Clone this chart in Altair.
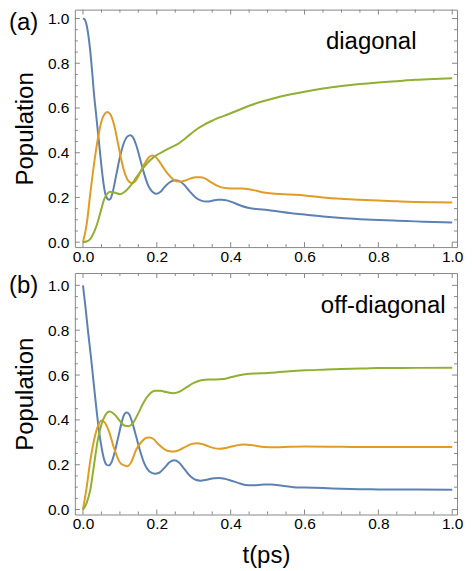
import altair as alt
import pandas as pd

FONT = "Liberation Sans"
GRAY = "#888888"
SERIES = ["blue", "orange", "green"]
COLORS = ["#5E81B5", "#E19C24", "#8FB032"]

MAJOR = [0.0, 0.2, 0.4, 0.6, 0.8, 1.0]
MINOR = [0.05, 0.1, 0.15, 0.25, 0.3, 0.35, 0.45, 0.5, 0.55, 0.65, 0.7, 0.75, 0.85, 0.9, 0.95]

# ---- panel (a): diagonal ----
A_BLUE_T = [0, 0.005, 0.01, 0.015, 0.02, 0.025, 0.03, 0.035, 0.04, 0.045, 0.05, 0.055, 0.06, 0.065, 0.07,
            0.075, 0.08, 0.09, 0.1, 0.11, 0.12, 0.128, 0.135, 0.145, 0.155, 0.165, 0.175, 0.185, 0.195, 0.2,
            0.21, 0.22, 0.235, 0.25, 0.26, 0.275, 0.29, 0.305, 0.32, 0.335, 0.35, 0.365, 0.375, 0.39, 0.41,
            0.43, 0.45, 0.47, 0.5, 0.53, 0.56, 0.6, 0.65, 0.7, 0.75, 0.8, 0.85, 0.9, 0.95, 1.0]
A_BLUE_P = [1.0, 0.995, 0.97, 0.92, 0.85, 0.76, 0.66, 0.58, 0.5, 0.42, 0.34, 0.27, 0.22, 0.197, 0.19,
            0.195, 0.22, 0.3, 0.38, 0.44, 0.472, 0.478, 0.47, 0.43, 0.37, 0.31, 0.26, 0.23, 0.218, 0.217,
            0.225, 0.245, 0.268, 0.277, 0.274, 0.255, 0.225, 0.2, 0.186, 0.182, 0.185, 0.19, 0.19, 0.187, 0.175,
            0.162, 0.153, 0.148, 0.144, 0.137, 0.13, 0.124, 0.115, 0.108, 0.103, 0.099, 0.096, 0.093, 0.09, 0.088]

A_ORANGE_T = [0, 0.01, 0.02, 0.03, 0.04, 0.05, 0.058, 0.066, 0.074, 0.085, 0.095, 0.105, 0.115, 0.125, 0.133,
              0.14, 0.15, 0.16, 0.17, 0.18, 0.188, 0.195, 0.205, 0.215, 0.23, 0.245, 0.26, 0.275, 0.29, 0.305,
              0.318, 0.33, 0.345, 0.36, 0.375, 0.39, 0.41, 0.43, 0.45, 0.47, 0.49, 0.52, 0.56, 0.6, 0.65,
              0.7, 0.75, 0.8, 0.85, 0.9, 0.95, 1.0]
A_ORANGE_P = [0, 0.08, 0.22, 0.35, 0.46, 0.54, 0.572, 0.582, 0.572, 0.52, 0.44, 0.36, 0.3, 0.27, 0.264,
              0.27, 0.295, 0.33, 0.36, 0.382, 0.388, 0.383, 0.365, 0.34, 0.305, 0.28, 0.271, 0.275, 0.284, 0.29,
              0.29, 0.285, 0.27, 0.255, 0.245, 0.241, 0.24, 0.24, 0.237, 0.23, 0.222, 0.217, 0.213, 0.209, 0.2,
              0.194, 0.19, 0.186, 0.183, 0.18, 0.178, 0.177]

A_GREEN_T = [0, 0.01, 0.02, 0.03, 0.04, 0.05, 0.057, 0.065, 0.073, 0.085, 0.1, 0.115, 0.13, 0.146, 0.16,
             0.175, 0.19, 0.2, 0.22, 0.24, 0.255, 0.27, 0.29, 0.31, 0.33, 0.35, 0.37, 0.39, 0.42, 0.45,
             0.48, 0.52, 0.56, 0.6, 0.65, 0.7, 0.75, 0.8, 0.85, 0.9, 0.95, 1.0]
A_GREEN_P = [0, 0.003, 0.015, 0.045, 0.09, 0.15, 0.19, 0.215, 0.225, 0.222, 0.215, 0.228, 0.255, 0.293, 0.325,
             0.355, 0.378, 0.39, 0.408, 0.425, 0.437, 0.455, 0.482, 0.507, 0.527, 0.543, 0.558, 0.57, 0.59, 0.61,
             0.627, 0.645, 0.66, 0.673, 0.687, 0.698, 0.707, 0.714, 0.72, 0.726, 0.73, 0.733]

# ---- panel (b): off-diagonal ----
B_BLUE_T = [0, 0.007, 0.014, 0.021, 0.028, 0.035, 0.042, 0.05, 0.057, 0.064, 0.07, 0.077, 0.085, 0.095, 0.105,
            0.112, 0.118, 0.125, 0.135, 0.145, 0.155, 0.165, 0.18, 0.195, 0.205, 0.22, 0.235, 0.247, 0.26, 0.275,
            0.29, 0.305, 0.318, 0.335, 0.355, 0.37, 0.385, 0.4, 0.42, 0.44, 0.46, 0.49, 0.51, 0.54, 0.57,
            0.6, 0.65, 0.7, 0.75, 0.8, 0.9, 1.0]
B_BLUE_P = [1.0, 0.9, 0.79, 0.69, 0.58, 0.47, 0.37, 0.28, 0.225, 0.2, 0.197, 0.21, 0.25, 0.32, 0.39,
            0.425, 0.433, 0.425, 0.38, 0.32, 0.26, 0.21, 0.17, 0.16, 0.163, 0.185, 0.212, 0.22, 0.21, 0.18,
            0.15, 0.133, 0.129, 0.133, 0.14, 0.141, 0.137, 0.13, 0.119, 0.11, 0.108, 0.112, 0.112, 0.106, 0.1,
            0.098, 0.096, 0.093, 0.091, 0.09, 0.089, 0.088]

B_ORANGE_T = [0, 0.01, 0.02, 0.03, 0.04, 0.05, 0.058, 0.07, 0.085, 0.1, 0.112, 0.12, 0.13, 0.145, 0.16,
              0.172, 0.18, 0.19, 0.205, 0.22, 0.235, 0.245, 0.26, 0.28, 0.295, 0.31, 0.325, 0.34, 0.355, 0.37,
              0.39, 0.41, 0.435, 0.46, 0.49, 0.52, 0.56, 0.6, 0.7, 0.8, 0.9, 1.0]
B_ORANGE_P = [0, 0.1, 0.22, 0.31, 0.37, 0.397, 0.39, 0.35, 0.27, 0.21, 0.197, 0.193, 0.21, 0.27, 0.305,
              0.32, 0.322, 0.316, 0.29, 0.27, 0.26, 0.259, 0.265, 0.282, 0.293, 0.296, 0.291, 0.282, 0.274, 0.271,
              0.276, 0.284, 0.29, 0.287, 0.279, 0.278, 0.28, 0.281, 0.28, 0.279, 0.279, 0.279]

B_GREEN_T = [0, 0.01, 0.02, 0.03, 0.04, 0.05, 0.06, 0.072, 0.085, 0.1, 0.112, 0.124, 0.135, 0.15, 0.165,
             0.18, 0.195, 0.21, 0.225, 0.245, 0.26, 0.28, 0.3, 0.32, 0.34, 0.36, 0.38, 0.4, 0.42, 0.445,
             0.47, 0.5, 0.525, 0.56, 0.6, 0.65, 0.7, 0.75, 0.8, 0.9, 1.0]
B_GREEN_P = [0, 0.03, 0.09, 0.2, 0.31, 0.38, 0.42, 0.437, 0.425, 0.395, 0.375, 0.372, 0.385, 0.43, 0.48,
             0.515, 0.53, 0.53, 0.524, 0.519, 0.525, 0.545, 0.565, 0.577, 0.58, 0.58, 0.582, 0.59, 0.598, 0.605,
             0.607, 0.609, 0.612, 0.617, 0.621, 0.624, 0.627, 0.629, 0.631, 0.632, 0.633]


def table(pairs):
    rows = []
    for name, ts, ps in pairs:
        assert len(ts) == len(ps), name
        for t, p in zip(ts, ps):
            rows.append({"t": t, "p": p, "series": name})
    return pd.DataFrame(rows)


DF_A = table([("blue", A_BLUE_T, A_BLUE_P), ("orange", A_ORANGE_T, A_ORANGE_P), ("green", A_GREEN_T, A_GREEN_P)])
DF_B = table([("blue", B_BLUE_T, B_BLUE_P), ("orange", B_ORANGE_T, B_ORANGE_P), ("green", B_GREEN_T, B_GREEN_P)])
DF_MAJOR = pd.DataFrame({"v": MAJOR})
DF_MINOR = pd.DataFrame({"v": MINOR})

W = 383
XS = alt.Scale(domain=[-0.022, 1.013], nice=False, zero=False)


def panel(df, tag, label, H, ydom, xtitle, label_x, label_y, tag_y):
    ys = alt.Scale(domain=ydom, nice=False, zero=False)
    if xtitle:
        xaxis = alt.Axis(values=MAJOR, format=".1f", ticks=False, domain=False, grid=False,
                         labelPadding=2, labelFlush=False, labelOverlap=False,
                         title=xtitle, titlePadding=12)
    else:
        xaxis = alt.Axis(values=MAJOR, format=".1f", ticks=False, domain=False, grid=False,
                         labelPadding=2, labelFlush=False, labelOverlap=False, title=None)
    yaxis = alt.Axis(values=MAJOR, format=".1f", ticks=False, domain=False, grid=False,
                     labelPadding=6, labelFlush=False, labelOverlap=False,
                     title="Population", titlePadding=10)
    lines = alt.Chart(df).mark_line(strokeWidth=2, interpolate="monotone").encode(
        x=alt.X("t:Q", scale=XS, axis=xaxis),
        y=alt.Y("p:Q", scale=ys, axis=yaxis),
        color=alt.Color("series:N", scale=alt.Scale(domain=SERIES, range=COLORS), legend=None),
    )

    tick_layers = []
    for data, size in ((DF_MAJOR, 5), (DF_MINOR, 3)):
        base = alt.Chart(data).mark_rule(color=GRAY, strokeWidth=1)
        xv = alt.X("v:Q", scale=XS, axis=None)
        yv = alt.Y("v:Q", scale=ys, axis=None)
        tick_layers += [
            base.encode(x=xv, y=alt.value(H), y2=alt.value(H - size)),
            base.encode(x=xv, y=alt.value(0), y2=alt.value(size)),
            base.encode(y=yv, x=alt.value(0), x2=alt.value(size)),
            base.encode(y=yv, x=alt.value(W), x2=alt.value(W - size)),
        ]

    tag_layer = alt.Chart(pd.DataFrame({"label": [tag]})).mark_text(
        font=FONT, fontSize=24, align="left", baseline="alphabetic", color="black"
    ).encode(text="label:N", x=alt.value(-66), y=alt.value(tag_y))

    name_layer = alt.Chart(pd.DataFrame({"label": [label]})).mark_text(
        font=FONT, fontSize=24, align="center", baseline="alphabetic", color="black"
    ).encode(text="label:N", x=alt.value(label_x), y=alt.value(label_y))

    return alt.layer(lines, *tick_layers, tag_layer, name_layer).resolve_axis(
        x="independent", y="independent"
    ).properties(width=W, height=H)


pa = panel(DF_A, "(a)", "diagonal", 238, [-0.022, 1.04], None, 297, 39, 20)
pb = panel(DF_B, "(b)", "off-diagonal", 242, [-0.022, 1.055], "t(ps)", 309, 40, 20)

chart = alt.vconcat(pa, pb, spacing=7).properties(padding=0).configure_view(
    stroke=GRAY, strokeWidth=1
).configure_axis(
    labelFont=FONT, titleFont=FONT, labelFontSize=15.5, titleFontSize=24,
    labelColor="black", titleColor="black", titleFontWeight="normal"
)

chart.save("out.html", embed_options={"renderer": "svg", "actions": False})
